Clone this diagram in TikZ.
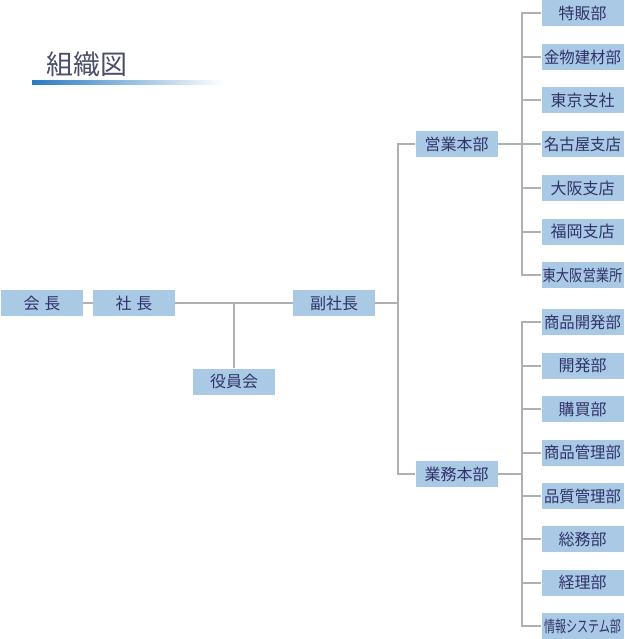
\documentclass[tikz,border=0pt]{standalone}
\usepackage{fontspec}
\setmainfont{Noto Sans CJK JP}
\usepackage{graphicx}
\usepackage{tikz}
\definecolor{boxblue}{HTML}{A9C9E4}
\definecolor{boxtext}{HTML}{30336A}
\definecolor{linegray}{HTML}{B0B0B0}
\definecolor{titlegray}{HTML}{4A4E68}
\definecolor{barblue}{HTML}{2A7BC2}
\tikzset{
  orgbox/.style  = {fill=boxblue,text=boxtext,minimum width=82pt,minimum height=26pt,
                    inner sep=0pt,font=\fontsize{16}{16}\selectfont},
  orgline/.style = {draw=linegray,line width=2pt},
  titletext/.style = {text=titlegray,inner sep=0pt,font=\fontsize{27}{27}\selectfont}
}
\newcommand{\squeeze}[2]{\scalebox{#1}[1]{#2}}

\begin{document}
\begin{tikzpicture}[x=1pt,y=-1pt]
  \useasboundingbox (0,0) rectangle (624,639);
  % title
  \node[titletext,anchor=west] (title) at (46,64.5) {組織図};
  \shade[left color=barblue,right color=white] (32,81) rectangle (224,84.5);

  % top of the tree
  \node[orgbox] (kaicho) at (42,303) {会\hspace{5pt}長};
  \node[orgbox] (shacho) at (134,303) {社\hspace{5pt}長};
  \node[orgbox] (yakuin) at (234,381.5) {役員会};
  \node[orgbox] (fuku)   at (334,303) {副社長};
  \node[orgbox] (eigyo)  at (456.5,144) {営業本部};
  \node[orgbox] (gyomu)  at (456.5,474) {業務本部};

  % departments
  \foreach \n/\y/\t in {s1/13/特販部, s2/57/\squeeze{0.96}{金物建材部}, s3/100.5/東京支社,
                        s4/144/\squeeze{0.96}{名古屋支店}, s5/188/大阪支店, s6/231.5/福岡支店,
                        s7/275/\squeeze{0.83}{東大阪営業所}}
    \node[orgbox] (\n) at (582.5,\y) {\t};
  \foreach \n/\y/\t in {g1/322/\squeeze{0.96}{商品開発部}, g2/365.5/開発部, g3/409/購買部,
                        g4/452.5/\squeeze{0.96}{商品管理部}, g5/496/\squeeze{0.96}{品質管理部},
                        g6/539/総務部, g7/582.5/経理部, g8/626/\squeeze{0.69}{情報システム部}}
    \node[orgbox] (\n) at (582.5,\y) {\t};

  % connectors
  \draw[orgline] (kaicho) -- (shacho);
  \draw[orgline] (shacho) -- (fuku);
  \coordinate (yk) at (yakuin |- shacho);
  \draw[orgline] (yk) -- (yakuin);
  \coordinate (trunk) at (398,0);
  \draw[orgline] (fuku) -- (trunk |- fuku);
  \draw[orgline] (eigyo.west) -| (trunk |- gyomu) -- (gyomu.west);

  \coordinate (sbus) at (521.5,0);
  \draw[orgline] (eigyo.east) -- (sbus |- eigyo);
  \draw[orgline] (s1.west) -| (sbus |- s7) -- (s7.west);
  \foreach \n in {s2,s3,s4,s5,s6}
    \draw[orgline] (sbus |- \n) -- (\n.west);
  \draw[orgline] (gyomu.east) -- (sbus |- gyomu);
  \draw[orgline] (g1.west) -| (sbus |- g8) -- (g8.west);
  \foreach \n in {g2,g3,g4,g5,g6,g7}
    \draw[orgline] (sbus |- \n) -- (\n.west);
\end{tikzpicture}
\end{document}
